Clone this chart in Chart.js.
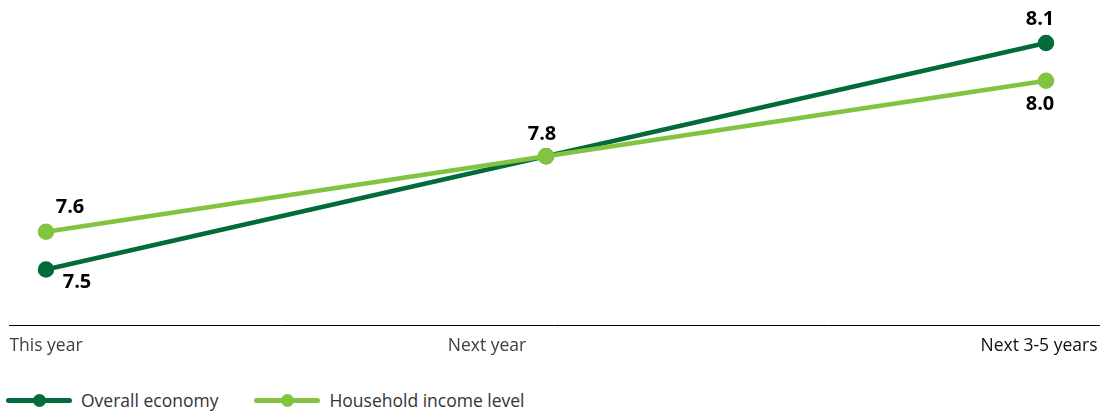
<!DOCTYPE html>
<html>
<head>
<meta charset="utf-8">
<script src="https://cdn.jsdelivr.net/npm/chart.js@4/dist/chart.umd.min.js"></script>
<style>
  body { margin: 0; background: #fff; font-family: "Open Sans", sans-serif; }
  #wrap { position: relative; width: 1104px; height: 414px; }
  #chartBox { position: absolute; left: 0; top: 0; width: 1104px; height: 370px; }
  #legend { position: absolute; left: 6px; top: 388px; height: 24px; display: flex; align-items: center; }
  .item { display: flex; align-items: center; margin-right: 36px; font-size: 17.5px; color: #333; }
  .mark { position: relative; width: 66px; height: 5px; border-radius: 3px; margin-right: 9px; }
  .mark i { position: absolute; left: 27px; top: -4px; width: 13px; height: 13px; border-radius: 50%; }
</style>
</head>
<body>
<div id="wrap">
  <div id="chartBox"><canvas id="chart"></canvas></div>
  <div id="legend"></div>
</div>
<script>
// perioade si valori
const categories = ["This year", "Next year", "Next 3-5 years"];
const overallEconomy = [7.5, 7.8, 8.1];
const householdIncome = [7.6, 7.8, 8.0];
const seriesNames = ["Overall economy", "Household income level"];

const darkGreen = "#026B3A";
const lightGreen = "#82C341";

// pozitia etichetelor de pe axa x (in unitati ale axei)
const tickPos = [0, 0.882, 1.986];

const toPoints = vals => vals.map((v, i) => ({ x: i, y: v }));

// valorile scrise langa puncte
const valueLabels = {
  id: "valueLabels",
  afterDatasetsDraw(chart) {
    const ctx = chart.ctx;
    ctx.save();
    ctx.font = 'bold 20px "Open Sans"';
    ctx.fillStyle = "#000";
    ctx.textAlign = "center";
    ctx.textBaseline = "middle";
    chart.data.datasets.forEach((ds, i) => {
      chart.getDatasetMeta(i).data.forEach((pt, j) => {
        const off = ds.labelOffsets[j];
        if (!off) return;
        ctx.fillText(ds.data[j].y.toFixed(1), pt.x + off[0], pt.y + off[1]);
      });
    });
    ctx.restore();
  }
};

const chart = new Chart(document.getElementById("chart"), {
  type: "line",
  data: {
    datasets: [
      {
        label: seriesNames[0],
        data: toPoints(overallEconomy),
        borderColor: darkGreen,
        backgroundColor: darkGreen,
        borderWidth: 4.5,
        pointRadius: 6,
        order: 1,
        labelOffsets: [[31, 13], null, [-6, -24]]
      },
      {
        label: seriesNames[1],
        data: toPoints(householdIncome),
        borderColor: lightGreen,
        backgroundColor: lightGreen,
        borderWidth: 4.5,
        pointRadius: 6,
        order: 0,
        labelOffsets: [[24, -24], [-4, -22], [-6, 24]]
      }
    ]
  },
  options: {
    responsive: true,
    maintainAspectRatio: false,
    animation: false,
    events: [],
    layout: { autoPadding: false, padding: { left: 9, right: 5, top: 0, bottom: 2 } },
    plugins: { legend: { display: false }, tooltip: { enabled: false } },
    scales: {
      x: {
        type: "linear",
        min: -0.074,
        max: 2.106,
        grid: { display: false, drawTicks: false },
        border: { display: true, color: "#000", width: 1 },
        afterBuildTicks: scale => { scale.ticks = tickPos.map(v => ({ value: v })); },
        afterFit: scale => { scale.paddingLeft = 0; scale.paddingRight = 0; },
        ticks: {
          autoSkip: false,
          maxRotation: 0,
          padding: 11,
          font: { family: "Open Sans", size: 17.5 },
          color: c => (c.index === 2 ? "#111" : "#404040"),
          callback: (v, i) => categories[i]
        }
      },
      y: {
        display: false,
        min: 7.353,
        max: 8.214
      }
    }
  },
  plugins: [valueLabels]
});

// legenda
const legend = document.getElementById("legend");
[darkGreen, lightGreen].forEach((c, i) => {
  legend.innerHTML += `<div class="item"><span class="mark" style="background:${c}"><i style="background:${c}"></i></span>${seriesNames[i]}</div>`;
});
</script>
</body>
</html>
